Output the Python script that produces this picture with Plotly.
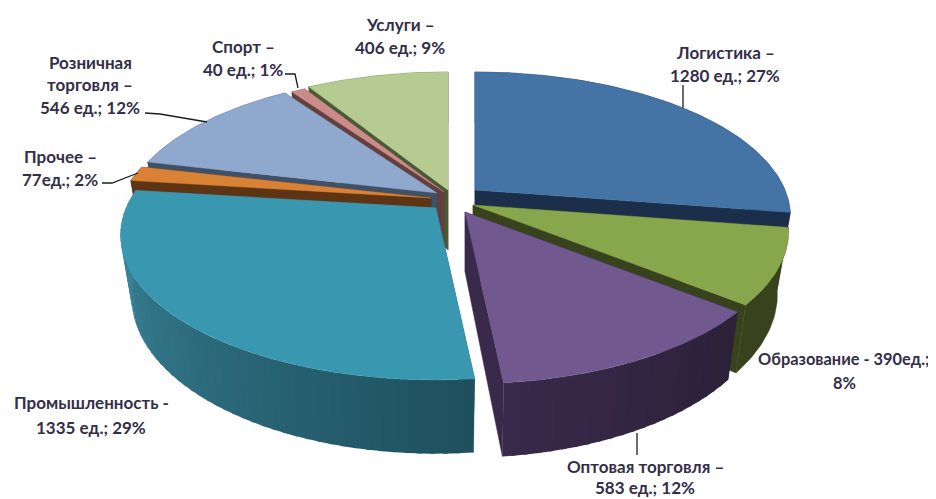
import math
import plotly.graph_objects as go

# --- data ---
categories = ["Логистика", "Образование", "Оптовая торговля", "Промышленность",
              "Прочее", "Розничная торговля", "Спорт", "Услуги"]
values = [1280, 390, 583, 1335, 77, 546, 40, 406]

# --- styles ---
top_colors = ["#4473A5", "#88A64B", "#71588F", "#3A97B0", "#D98236", "#8FA8CE", "#CB8B89", "#B6CB92"]
side_start = ["#1B2F4A", "#38431E", "#2B2138", "#1E4F5C", "#5E3514", "#3E5166", "#633F3E", "#4B5A35"]
side_end = ["#1B2F4A", "#38431E", "#39294B", "#3D8CA3", "#5E3514", "#3E5166", "#633F3E", "#4B5A35"]
apex_x = [475, 473, 465, 436, 431, 437, 444, 448]
apex_y = [190, 205, 212, 208, 198, 193, 192, 190]
draw_order = [7, 6, 5, 4, 3, 0, 1, 2]

RX, RY, PERSP, DEPTH, SHRINK = 310, 140, 0.186, 60, 0.965
PAGE_INSET = 8  # the page body's default margin

labels = [
    (["Услуги –", "406 ед.; 9%"], 400, 24, 23, 17),
    (["Спорт –", "40 ед.; 1%"], 243, 46, 23, 17),
    (["Розничная", "торговля –", "546 ед.; 12%"], 90, 62, 22.5, 17),
    (["Прочее –", "77ед.; 2%"], 60, 156, 23, 17),
    (["Логистика –", "1280 ед.; 27%"], 725, 52, 23, 17),
    (["Образование - 390ед.;", "8%"], 844, 358, 24, 16.4),
    (["Промышленность -", "1335 ед.; 29%"], 91, 402, 25, 17),
    (["Оптовая торговля –", "583 ед.; 12%"], 645, 466, 21.5, 17),
]
leaders = [
    ([683, 683], [108, 85]),
    ([285, 295, 298], [74, 74, 88]),
    ([145, 160, 207], [113, 114, 122]),
    ([102, 112, 138], [183, 183, 173]),
    ([637, 637], [433, 455]),
]


def top_point(theta, i):
    t = math.radians(theta)
    u, v = math.sin(t), math.cos(t)
    s = 1 / (1 + PERSP * v)
    return apex_x[i] + RX * u * s, apex_y[i] - RY * v * s, s


def bottom_point(theta, i):
    x, y, s = top_point(theta, i)
    return apex_x[i] + (x - apex_x[i]) * SHRINK, y + DEPTH * s


def mix(a, b, f):
    ca = [int(a[k:k + 2], 16) for k in (1, 3, 5)]
    cb = [int(b[k:k + 2], 16) for k in (1, 3, 5)]
    return "#%02x%02x%02x" % tuple(round(p + (q - p) * f) for p, q in zip(ca, cb))


def poly(fig, xs, ys, color, width=0.4):
    fig.add_trace(go.Scatter(
        x=xs + xs[:1], y=ys + ys[:1], mode="lines", fill="toself",
        fillcolor=color, line=dict(color=color, width=width),
        hoverinfo="skip", showlegend=False))


total = sum(values)
bounds = [0.0]
for val in values:
    bounds.append(bounds[-1] + 360.0 * val / total)

fig = go.Figure()
for i in draw_order:
    a0, a1 = bounds[i], bounds[i + 1]
    ax, ay = apex_x[i], apex_y[i]
    abx, aby = ax, ay + DEPTH
    # cut faces
    for edge in (a0, a1):
        tx, ty, _ = top_point(edge, i)
        bx, by = bottom_point(edge, i)
        poly(fig, [ax, tx, bx, abx], [ay, ty, by, aby],
             side_start[i] if edge == a0 else side_end[i])
    # outer rim: one overlapping band per step so no seams show
    if side_start[i] == side_end[i]:
        steps = max(2, int(a1 - a0))
        ts = [a0 + (a1 - a0) * k / steps for k in range(steps + 1)]
        poly(fig, [top_point(t, i)[0] for t in ts] + [bottom_point(t, i)[0] for t in reversed(ts)],
             [top_point(t, i)[1] for t in ts] + [bottom_point(t, i)[1] for t in reversed(ts)],
             side_start[i])
    else:
        n = int((a1 - a0) / 2)
        for k in range(n):
            t0 = a0 + (a1 - a0) * k / n
            t1 = a0 + (a1 - a0) * (k + 1) / n
            t1b = min(a1, t1 + 0.7)
            x0, y0, _ = top_point(t0, i)
            x1, y1, _ = top_point(t1b, i)
            x2, y2 = bottom_point(t1b, i)
            x3, y3 = bottom_point(t0, i)
            poly(fig, [x0, x1, x2, x3], [y0, y1, y2, y3],
                 mix(side_start[i], side_end[i], (k + 0.5) / n), width=0)
    # top face
    m = max(2, int((a1 - a0) * 2))
    arc = [top_point(a0 + (a1 - a0) * k / m, i) for k in range(m + 1)]
    poly(fig, [ax] + [p[0] for p in arc], [ay] + [p[1] for p in arc], top_colors[i])

for lx, ly in leaders:
    fig.add_trace(go.Scatter(x=lx, y=ly, mode="lines", line=dict(color="#1c1c1c", width=1.3),
                             hoverinfo="skip", showlegend=False))

for lines, cx, y0, gap, size in labels:
    for j, line in enumerate(lines):
        fig.add_annotation(x=cx, y=y0 + j * gap, text="<b>%s</b>" % line, showarrow=False,
                           xanchor="center", yanchor="middle",
                           font=dict(family="Lato", size=size, color="#342E48"))

fig.update_layout(
    width=936 - PAGE_INSET, height=499 - PAGE_INSET, margin=dict(l=0, r=0, t=0, b=0),
    paper_bgcolor="white", plot_bgcolor="white", showlegend=False,
    xaxis=dict(range=[PAGE_INSET, 936], visible=False, fixedrange=True),
    yaxis=dict(range=[499, PAGE_INSET], visible=False, fixedrange=True),
)
fig.write_html("out.html", config={"displayModeBar": False})
